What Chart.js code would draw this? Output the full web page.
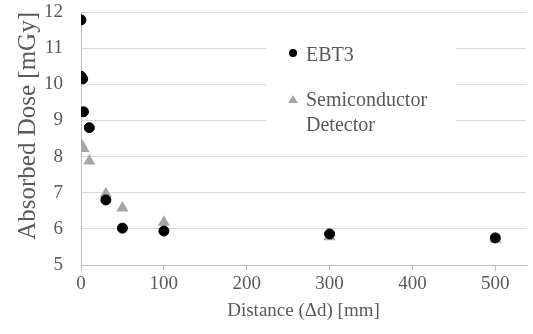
<!DOCTYPE html>
<html>
<head>
<meta charset="utf-8">
<script src="https://cdn.jsdelivr.net/npm/chart.js@4/dist/chart.umd.min.js"></script>
<style>
  html, body { margin: 0; padding: 0; background: #fff; }
  #wrap { width: 533px; height: 334px; }
</style>
</head>
<body>
<div id="wrap"><canvas id="doseChart"></canvas></div>
<script>
// valores
const ebt3Dist = [0, 0, 2, 3, 10, 30, 50, 100, 300, 500];
const ebt3Dose = [11.78, 10.22, 10.15, 9.24, 8.8, 6.8, 6.02, 5.94, 5.86, 5.75];
const semiDist = [0, 3, 10, 30, 50, 100, 300, 500];
const semiDose = [8.35, 8.22, 7.88, 6.97, 6.58, 6.18, 5.78, 5.72];
const seriesNames = ['EBT3', 'Semiconductor Detector'];
const xTicks = [0, 100, 200, 300, 400, 500];
const yTicks = [5, 6, 7, 8, 9, 10, 11, 12];

const textGray = '#595959';
const serif = '"Liberation Serif", "Times New Roman", serif';

const toPoints = (xs, ys) => xs.map((x, i) => ({ x: x, y: ys[i] }));

// legenda desenhada dentro da área do gráfico
const innerLegend = {
    id: 'innerLegend',
    beforeDatasetsDraw(chart) {
        const ctx = chart.ctx;
        ctx.save();
        ctx.fillStyle = '#fff';
        ctx.fillRect(266, 40, 190, 100);
        ctx.restore();
    },
    afterDraw(chart) {
        const ctx = chart.ctx;
        ctx.save();
        ctx.font = '20px ' + serif;
        ctx.fillStyle = textGray;
        ctx.textBaseline = 'middle';
        ctx.fillText(seriesNames[0], 306, 56);
        const words = seriesNames[1].split(' ');
        ctx.fillText(words[0], 306, 101);
        ctx.fillText(words[1], 306, 126);
        // marcadores
        ctx.fillStyle = '#000';
        ctx.beginPath();
        ctx.arc(293, 53, 4, 0, Math.PI * 2);
        ctx.fill();
        ctx.fillStyle = '#a6a6a6';
        ctx.beginPath();
        ctx.moveTo(293, 95);
        ctx.lineTo(298, 103);
        ctx.lineTo(288, 103);
        ctx.closePath();
        ctx.fill();
        ctx.restore();
    }
};

const ctx = document.getElementById('doseChart').getContext('2d');

new Chart(ctx, {
    type: 'scatter',
    data: {
        datasets: [{
            label: seriesNames[0],
            data: toPoints(ebt3Dist, ebt3Dose),
            pointStyle: 'circle',
            pointRadius: 5,
            pointBackgroundColor: '#000',
            pointBorderColor: '#000',
            pointBorderWidth: 1,
            order: 0
        }, {
            label: seriesNames[1],
            data: toPoints(semiDist, semiDose),
            pointStyle: 'triangle',
            pointRadius: 7,
            pointBackgroundColor: '#a6a6a6',
            pointBorderColor: '#a6a6a6',
            pointBorderWidth: 0,
            order: 1
        }]
    },
    options: {
        responsive: true,
        maintainAspectRatio: false,
        animation: false,
        layout: { padding: { top: 12, left: 2, right: 0, bottom: 4 } },
        plugins: {
            legend: { display: false },
            tooltip: { enabled: false }
        },
        scales: {
            x: {
                type: 'linear',
                min: 0,
                max: 537,
                afterBuildTicks: scale => { scale.ticks = xTicks.map(v => ({ value: v })); },
                afterFit: scale => {
                    scale.height = 65;
                    scale.paddingLeft = 0;
                    scale.paddingRight = 0;
                },
                ticks: {
                    color: textGray,
                    font: { family: serif, size: 19 },
                    padding: 2
                },
                grid: {
                    drawOnChartArea: false,
                    drawTicks: true,
                    tickLength: 6,
                    color: '#bfbfbf'
                },
                border: { color: '#bfbfbf', width: 1 },
                title: {
                    display: true,
                    text: 'Distance (\u0394d) [mm]',
                    color: textGray,
                    font: { family: serif, size: 19 },
                    padding: { top: 0, bottom: 8 }
                }
            },
            y: {
                min: 5,
                max: 12,
                afterBuildTicks: scale => { scale.ticks = yTicks.map(v => ({ value: v })); },
                afterFit: scale => {
                    scale.width = 79;
                    scale.paddingTop = 0;
                    scale.paddingBottom = 0;
                },
                ticks: {
                    color: textGray,
                    font: { family: serif, size: 19 },
                    padding: 18
                },
                grid: {
                    color: '#d9d9d9',
                    drawTicks: false
                },
                border: { color: '#bfbfbf', width: 1 },
                title: {
                    display: true,
                    text: 'Absorbed Dose [mGy]',
                    align: 'end',
                    color: textGray,
                    font: { family: serif, size: 25 },
                    padding: { top: 11, bottom: 0 }
                }
            }
        }
    },
    plugins: [innerLegend]
});
</script>
</body>
</html>
